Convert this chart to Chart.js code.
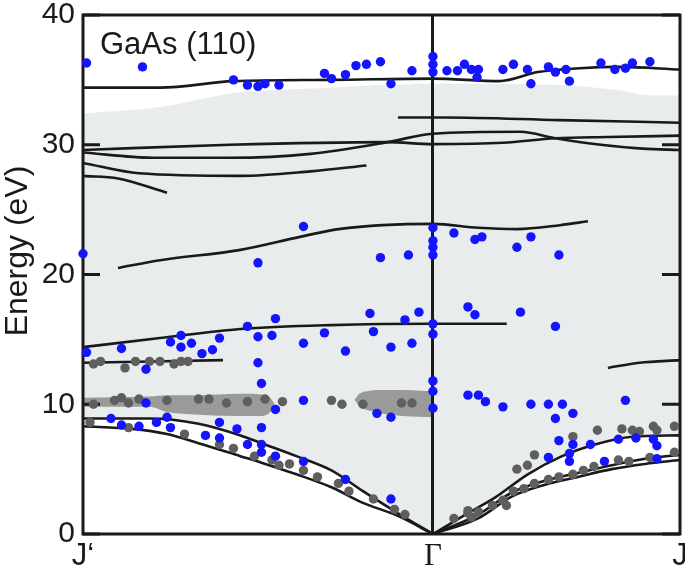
<!DOCTYPE html>
<html>
<head>
<meta charset="utf-8">
<title>GaAs (110)</title>
<script src="https://cdn.jsdelivr.net/npm/chart.js"></script>
<style>
  html, body { margin: 0; padding: 0; background: #fff; }
  #wrap { width: 685px; height: 578px; }
</style>
</head>
<body>
<div id="wrap"><canvas id="bands" width="685" height="578"></canvas></div>
<script>
// k along J' - Gamma - J (Gamma = 0), energies in eV
const K_TICKS = [-1, 0, 0.706];
const K_LABELS = ['J\u2018', '\u0393', 'J'];
const E_TICKS = [0, 10, 20, 30, 40];

// calculated bands
const bandTop = [[-1,34.4],[-0.78,34.4],[-0.57,34.9],[-0.29,35.0],[0,35.1],[0.19,34.9],[0.3,35.6],[0.42,35.9],[0.53,36.0],[0.706,35.8]];
const band32 = [[-0.1,32.1],[0.034,32.1],[0.36,31.9],[0.706,31.7]];
const bandCrossA = [[-1,29.6],[-0.58,30.0],[-0.13,30.2],[0,30.05],[0.2,30.15],[0.35,30.5],[0.5,30.6],[0.706,30.7]];
const bandCrossB = [[-1,29.4],[-0.8,29.0],[-0.58,29.0],[-0.35,29.3],[-0.13,30.2],[0,30.85],[0.25,31.0],[0.35,30.5],[0.48,30.0],[0.6,29.7],[0.706,29.6]];
const band28a = [[-1,28.6],[-0.84,27.8],[-0.55,27.6],[-0.35,27.95],[-0.19,28.4]];
const band28b = [[-1,27.6],[-0.9,27.4],[-0.76,26.3]];
const band23 = [[-0.9,20.5],[-0.78,21.1],[-0.55,21.9],[-0.38,22.9],[-0.27,23.5],[0,23.9],[0.13,23.6],[0.24,23.5],[0.363,23.8],[0.443,24.1]];
const band16 = [[-1,14.4],[-0.78,15.1],[-0.55,15.8],[-0.29,16.1],[0,16.2],[0.211,16.2]];
const band13Left = [[-1,13.2],[-0.6,13.4]];
const band13Right = [[0.5,12.8],[0.59,13.2],[0.706,13.4]];
const lowLeftUpper = [[-1,8.9],[-0.81,8.9],[-0.67,8.5],[-0.55,7.6],[-0.49,7.0],[-0.39,6.0],[-0.29,4.9],[-0.2,3.3],[-0.1,1.6],[0,0]];
const lowLeftLower = [[-1,8.3],[-0.86,8.1],[-0.76,7.7],[-0.67,7.0],[-0.55,6.0],[-0.49,5.5],[-0.39,4.6],[-0.29,3.6],[-0.2,2.4],[-0.1,1.4],[0,0]];
const lowRightUpper = [[0,0],[0.1,1.6],[0.177,2.8],[0.271,4.6],[0.369,6.0],[0.463,6.9],[0.569,7.5],[0.706,7.6]];
const lowRightMid = [[0,0],[0.129,1.5],[0.226,3.2],[0.32,4.1],[0.414,4.7],[0.511,5.3],[0.606,5.8],[0.706,6.1]];
const lowRightLow = [[0,0],[0.129,1.2],[0.226,2.9],[0.32,3.8],[0.414,4.4],[0.511,5.0],[0.606,5.4],[0.706,5.7]];

// shaded regions
const shadeTop = [[-1,32.4],[-0.78,32.9],[-0.56,34.0],[-0.29,34.4],[0,34.7],[0.36,34.6],[0.53,34.2],[0.62,33.8],[0.706,33.8]];
const shadeBottom = lowLeftUpper.concat(lowRightUpper.slice(1));
const blobLeftTop = [[-1,10.5],[-0.81,10.6],[-0.76,10.7],[-0.67,10.7],[-0.55,10.8],[-0.49,10.75],[-0.465,10.5],[-0.452,10.0]];
const blobLeftBottom = [[-1,9.8],[-0.81,9.8],[-0.76,9.4],[-0.67,9.2],[-0.55,9.1],[-0.49,9.1],[-0.465,9.4],[-0.452,10.0],[-0.44,10.0]];
const blobRightTop = [[-0.225,10.3],[-0.21,10.8],[-0.18,11.05],[-0.15,11.1],[-0.086,11.1],[0,11.0]];
const blobRightBottom = [[-0.237,10.3],[-0.225,10.3],[-0.21,9.8],[-0.18,9.5],[-0.15,9.3],[-0.086,9.1],[0,9.0]];

// measured peaks
const expBlue = [
  [-0.99,36.3],[-0.83,36.0],[-0.57,35.0],[-0.53,34.6],[-0.5,34.5],[-0.48,34.7],[-0.44,34.6],[-0.31,35.5],[-0.29,35.1],[-0.25,35.4],
  [-0.22,36.1],[-0.19,36.2],[-0.15,36.4],[-0.12,34.7],[-0.06,35.7],[0,36.8],[0,36.2],[0,35.6],[0.04,35.7],[0.07,35.7],
  [0.09,36.2],[0.11,35.8],[0.13,35.8],[0.126,35.2],[0.2,35.8],[0.23,36.2],[0.27,35.8],[0.28,34.7],[0.33,36.0],[0.35,35.6],
  [0.38,35.8],[0.39,34.9],[0.48,36.3],[0.52,35.8],[0.55,35.9],[0.57,36.3],[0.62,36.4],
  [-1.0,21.6],[-0.37,23.7],[-0.5,20.9],[-0.15,21.3],[-0.07,21.5],[0,23.6],[0,22.6],[0,22.1],[0,21.5],[0.06,23.2],
  [0.12,22.7],[0.14,22.9],[0.24,22.1],[0.28,22.9],[0.36,21.5],
  [-0.99,14.0],[-0.89,14.3],[-0.82,12.7],[-0.75,14.8],[-0.72,15.3],[-0.72,14.4],[-0.69,14.7],[-0.66,13.9],[-0.63,14.2],[-0.61,15.1],
  [-0.53,16.0],[-0.5,15.2],[-0.46,15.3],[-0.45,16.6],[-0.37,14.7],[-0.31,15.5],[-0.25,14.1],[-0.18,17.0],[-0.17,15.6],[-0.12,14.4],
  [-0.08,16.5],[-0.06,14.7],[-0.04,17.1],[0,16.2],[0,15.4],[-0.5,13.2],[0.1,17.5],[0.12,16.9],[0.25,17.1],[0.35,16.0],
  [-0.49,11.6],[0,11.8],[0,11.0],[0,9.7],[-0.82,10.1],[-0.37,10.3],[-0.45,9.6],[-0.16,9.3],[-0.12,9.0],[0.1,10.7],
  [0.13,10.7],[0.15,10.2],[0.2,9.8],[0.28,10.0],[0.33,10.0],[0.37,10.0],[0.35,8.9],[0.4,9.3],[0.55,10.3],
  [-0.92,8.9],[-0.89,8.4],[-0.84,8.3],[-0.79,8.6],[-0.76,9.0],[-0.75,8.2],[-0.65,7.6],[-0.61,8.6],[-0.61,7.4],[-0.56,8.1],
  [-0.49,8.2],[-0.53,6.9],[-0.49,6.9],[-0.49,6.3],[-0.45,6.0],[-0.37,5.6],[-0.25,4.2],[-0.12,2.7],
  [0.36,7.2],[0.4,6.9],[0.33,5.9],[0.39,6.2],[0.39,5.6],[0.45,6.9],[0.49,5.6],[0.53,7.3],[0.58,7.4],[0.63,7.3],
  [0.64,6.8],[0.64,5.8]
];
const expGray = [
  [-0.97,13.1],[-0.95,13.3],[-0.88,12.8],[-0.85,13.3],[-0.81,13.3],[-0.78,13.3],[-0.74,13.1],[-0.72,13.3],[-0.7,13.3],
  [-0.97,10.0],[-0.91,10.3],[-0.89,10.5],[-0.87,10.1],[-0.84,10.4],[-0.76,10.3],[-0.67,10.4],[-0.64,10.4],[-0.59,10.1],[-0.53,10.2],
  [-0.48,10.4],[-0.43,10.2],[-0.29,10.3],[-0.26,10.0],[-0.2,10.0],[-0.09,10.1],[-0.06,10.1],
  [-0.98,8.6],[-0.87,8.2],[-0.71,7.7],[-0.61,6.9],[-0.57,6.6],[-0.51,6.0],[-0.46,5.7],[-0.44,5.3],[-0.41,5.4],[-0.37,4.9],
  [-0.33,4.4],[-0.27,3.9],[-0.24,3.3],[-0.17,2.7],[-0.11,1.9],[-0.08,1.5],
  [0.06,1.2],[0.1,1.6],[0.1,1.8],[0.11,1.3],[0.13,1.7],[0.17,2.2],[0.2,2.6],[0.21,2.2],[0.23,3.3],[0.26,3.5],
  [0.29,3.9],[0.33,4.2],[0.36,4.4],[0.4,4.6],[0.43,4.9],[0.46,5.2],[0.53,5.7],[0.56,5.6],[0.62,5.9],[0.69,6.3],
  [0.24,5.0],[0.27,5.3],[0.29,6.1],[0.4,7.5],[0.47,8.0],[0.54,8.1],[0.57,8.0],[0.59,7.9],[0.63,8.3],[0.64,8.0],[0.69,8.3]
];

const SANS = "'Liberation Sans', Arial, Helvetica, sans-serif";
const SERIF = "'Liberation Serif', 'Times New Roman', serif";
const INK = '#1a1a1a';
const SHADE = '#e8eced';
const BLOB = '#9a9a9a';

const toXY = pts => pts.map(([x, y]) => ({ x, y }));

const datasets = [];
function add(ds) { datasets.push(ds); }

// dots on top
add({ data: toXY(expBlue), showLine: false, pointRadius: 4.7, pointBackgroundColor: '#1414ff', pointBorderWidth: 0, order: 0, clip: false });
add({ data: toXY(expGray), showLine: false, pointRadius: 4.7, pointBackgroundColor: '#5f5f5f', pointBorderWidth: 0, order: 0, clip: false });

// band lines
[bandTop, band32, bandCrossA, bandCrossB, band28a, band28b, band23, band16, band13Left, band13Right,
 lowLeftUpper, lowLeftLower, lowRightUpper, lowRightMid, lowRightLow].forEach(b => {
    add({ data: toXY(b), borderColor: INK, borderWidth: 2.6, pointRadius: 0, fill: false,
          cubicInterpolationMode: 'monotone', order: 1 });
});

// filled areas, stacked from the axis: higher order is painted first
function shade(pts, color, order) {
    add({ data: toXY(pts), borderColor: 'transparent', borderWidth: 0, pointRadius: 0,
          cubicInterpolationMode: 'monotone', fill: { target: 'origin', above: color, below: color }, order: order });
}
shade(shadeTop, SHADE, 6);
shade(blobLeftTop, BLOB, 5);
shade(blobRightTop, BLOB, 5);
shade(blobLeftBottom, SHADE, 4);
shade(blobRightBottom, SHADE, 4);
shade(shadeBottom, '#ffffff', 3);

const framePlugin = {
    id: 'frame',
    beforeDatasetsDraw(chart) {
        const { ctx, chartArea: a, scales: { y } } = chart;
        ctx.save();
        ctx.strokeStyle = INK;
        ctx.lineWidth = 3;
        ctx.strokeRect(a.left, a.top, a.right - a.left, a.bottom - a.top);
        E_TICKS.forEach(v => {
            const py = y.getPixelForValue(v);
            ctx.beginPath();
            ctx.moveTo(a.left, py); ctx.lineTo(a.left + 17, py);
            ctx.moveTo(a.right - 18, py); ctx.lineTo(a.right, py);
            ctx.stroke();
        });
        ctx.restore();
    },
    afterDatasetsDraw(chart) {
        const { ctx, chartArea: a } = chart;
        ctx.save();
        ctx.fillStyle = INK;
        ctx.font = '31px ' + SANS;
        ctx.textAlign = 'left';
        ctx.textBaseline = 'alphabetic';
        ctx.fillText('GaAs (110)', a.left + 17, a.top + 39);
        // y axis title
        ctx.translate(18, 251);
        ctx.rotate(-Math.PI / 2);
        ctx.font = '32px ' + SANS;
        ctx.textAlign = 'center';
        ctx.textBaseline = 'middle';
        ctx.fillText('Energy (eV)', 0, 0);
        ctx.restore();
    }
};

new Chart(document.getElementById('bands'), {
    type: 'line',
    data: { datasets: datasets },
    options: {
        responsive: false,
        animation: false,
        layout: { padding: { top: 15, right: 5, left: 0, bottom: 0 } },
        plugins: {
            legend: { display: false },
            tooltip: { enabled: false },
            filler: { drawTime: 'beforeDraw' }
        },
        scales: {
            x: {
                type: 'linear',
                min: K_TICKS[0],
                max: K_TICKS[2],
                afterBuildTicks: s => { s.ticks = K_TICKS.map(v => ({ value: v })); },
                afterFit: s => { s.height = 44; s.paddingLeft = 0; s.paddingRight = 0; },
                grid: {
                    drawTicks: false,
                    color: c => (c.tick && c.tick.value === 0) ? INK : 'rgba(0,0,0,0)',
                    lineWidth: 3
                },
                border: { display: false },
                ticks: {
                    autoSkip: false,
                    maxRotation: 0,
                    padding: 4,
                    color: INK,
                    callback: (v, i) => K_LABELS[i],
                    font: c => ({ family: (c.tick && c.tick.value === 0) ? SERIF : SANS, size: 31 })
                }
            },
            y: {
                min: 0,
                max: 40,
                afterBuildTicks: s => { s.ticks = E_TICKS.map(v => ({ value: v })); },
                afterFit: s => { s.width = 83; s.paddingTop = 0; s.paddingBottom = 0; },
                grid: { display: false, drawTicks: false },
                border: { display: false },
                ticks: { padding: 8, color: INK, font: { family: SANS, size: 30 } }
            }
        }
    },
    plugins: [framePlugin]
});
</script>
</body>
</html>
